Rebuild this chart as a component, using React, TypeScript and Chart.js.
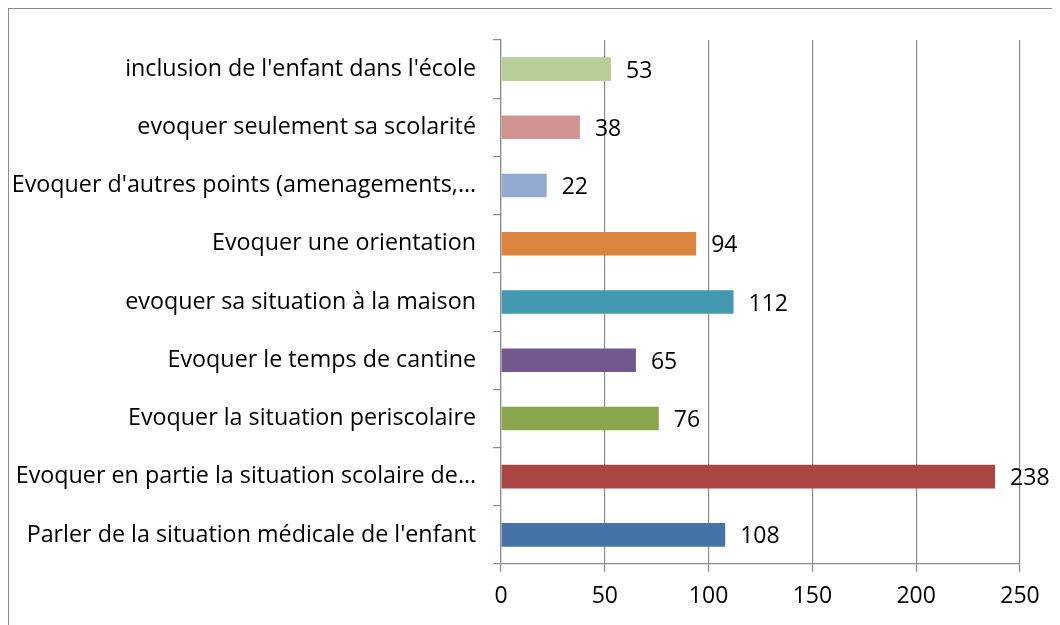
import React, { useEffect, useRef } from "react";
import { Chart, registerables } from "chart.js";

Chart.register(...registerables);

const categories = [
  "inclusion de l'enfant dans l'école",
  "evoquer seulement sa scolarité",
  "Evoquer d'autres points (amenagements,…",
  "Evoquer une orientation",
  "evoquer sa situation à la maison",
  "Evoquer le temps de cantine",
  "Evoquer la situation periscolaire",
  "Evoquer en partie la situation scolaire de…",
  "Parler de la situation médicale de l'enfant",
];
const values = [53, 38, 22, 94, 112, 65, 76, 238, 108];
const barColors = [
  "#B9CD96",
  "#D19392",
  "#93A9CF",
  "#DB843D",
  "#4198AF",
  "#71588F",
  "#89A54E",
  "#AA4643",
  "#4572A7",
];
const xTicks = [0, 50, 100, 150, 200, 250];

const FONT = "'Open Sans', 'Noto Sans', sans-serif";
const CAT_SIZE = 23.3;
const NUM_SIZE = 23;
const GRID = "#8c8c8c";

const valueLabels = {
  id: "valueLabels",
  afterDatasetsDraw(chart: any) {
    const ctx = chart.ctx;
    const meta = chart.getDatasetMeta(0);
    ctx.save();
    ctx.font = `${NUM_SIZE}px ${FONT}`;
    ctx.fillStyle = "#000";
    ctx.textAlign = "left";
    ctx.textBaseline = "middle";
    meta.data.forEach((bar: any, i: number) => {
      ctx.fillText(String(values[i]), bar.x + 15, bar.y + 2);
    });
    ctx.restore();
  },
};

export default function App() {
  const ref = useRef<HTMLCanvasElement>(null);
  useEffect(() => {
    if (!ref.current) return;
    const chart = new Chart(ref.current, {
      type: "bar",
      data: {
        labels: categories,
        datasets: [
          {
            data: values,
            backgroundColor: barColors,
            borderWidth: 0,
            categoryPercentage: 1,
            barPercentage: 0.405,
          },
        ],
      },
      options: {
        indexAxis: "y",
        responsive: false,
        animation: false,
        layout: { padding: { left: 0, right: 40, top: 29, bottom: 0 } },
        plugins: {
          legend: { display: false },
          tooltip: { enabled: false },
        },
        scales: {
          x: {
            type: "linear",
            min: 0,
            max: 250,
            afterBuildTicks: (scale: any) => {
              scale.ticks = xTicks.map((v) => ({ value: v }));
            },
            afterFit: (scale: any) => {
              scale.height = 61;
            },
            grid: {
              color: GRID,
              lineWidth: 1.2,
              drawTicks: true,
              tickLength: 8,
              tickColor: GRID,
            },
            border: { color: GRID, width: 1.2 },
            ticks: {
              color: "#000",
              font: { family: FONT, size: NUM_SIZE },
              padding: 11,
              maxRotation: 0,
            },
          },
          y: {
            afterFit: (scale: any) => {
              scale.width = 492;
            },
            grid: {
              drawOnChartArea: false,
              drawTicks: true,
              tickLength: 8,
              tickColor: GRID,
              lineWidth: 1.2,
              offset: true,
            },
            border: { color: GRID, width: 1.2 },
            ticks: {
              color: "#000",
              font: { family: FONT, size: CAT_SIZE },
              padding: 17,
              autoSkip: false,
            },
          },
        },
      },
      plugins: [valueLabels],
    });
    return () => chart.destroy();
  }, []);

  return (
    <div
      style={{
        width: 1052,
        height: 617,
        borderLeft: "1px solid #8c8c8c",
        borderTop: "1px solid #8c8c8c",
        boxSizing: "border-box",
        overflow: "hidden",
      }}
    >
      <canvas ref={ref} width={1051} height={616} style={{ display: "block" }} />
    </div>
  );
}
